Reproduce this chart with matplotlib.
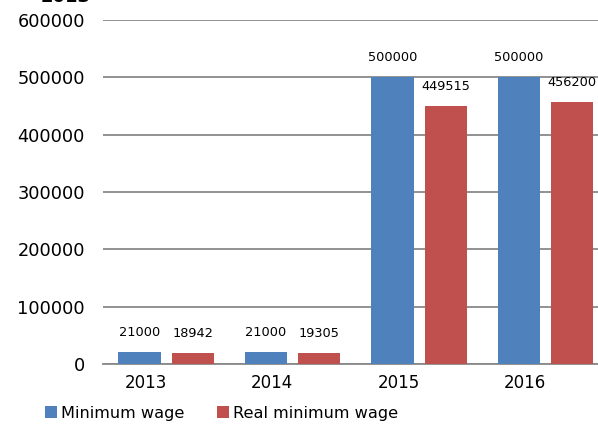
import matplotlib
matplotlib.use("Agg")
import matplotlib.pyplot as plt
import numpy as np

years = ["2013", "2014", "2015", "2016"]
min_wage = [21000, 21000, 500000, 500000]
real_min_wage = [18942, 19305, 449515, 456200]
yticks = [0, 100000, 200000, 300000, 400000, 500000, 600000]

plt.rcParams['font.family'] = ['DejaVu Sans']
fig = plt.figure(figsize=(5.98, 4.25), dpi=100)
ax = fig.add_axes([0.172, 0.1435, 0.846, 0.8095])

x = np.arange(len(years))
w = 0.333
off = 0.21
b1 = ax.bar(x - off, min_wage, w, color="#4F81BD", label="Minimum wage", zorder=3)
b2 = ax.bar(x + off, real_min_wage, w, color="#C0504D", label="Real minimum wage", zorder=3)

for rects, vals in ((b1, min_wage), (b2, real_min_wage)):
    for r, v in zip(rects, vals):
        ax.annotate(str(v), (r.get_x() + r.get_width() / 2, v), xytext=(0, 14),
                    textcoords="offset points", ha="center", va="center", fontsize=9.3)

ax.set_xlim(-0.5, 3.5)
ax.set_ylim(0, 600000)
ax.set_yticks(yticks)
ax.set_yticklabels([str(t) for t in yticks], fontsize=12.8)
ax.set_xticks(x - 0.16)
ax.set_xticklabels(years, fontsize=12)
ax.tick_params(axis="y", length=0, pad=13)
ax.tick_params(axis="x", length=0, pad=7)
ax.grid(axis="y", color="#898989", linewidth=1.3, zorder=0)
for s in ["top", "right", "left"]:
    ax.spines[s].set_visible(False)
ax.spines["bottom"].set_color("#898989")
ax.spines["bottom"].set_linewidth(1.3)

fig.legend(handles=[b1, b2], loc="center left", bbox_to_anchor=(0.062, 0.028), ncol=2,
           frameon=False, fontsize=11.6, handlelength=0.75, handleheight=0.75,
           handletextpad=0.25, columnspacing=2.0, borderpad=0)

fig.text(0.068, 1.008, "2013", fontsize=13, fontweight="bold", va="center", ha="left")

fig.savefig("out.png", dpi=100)
